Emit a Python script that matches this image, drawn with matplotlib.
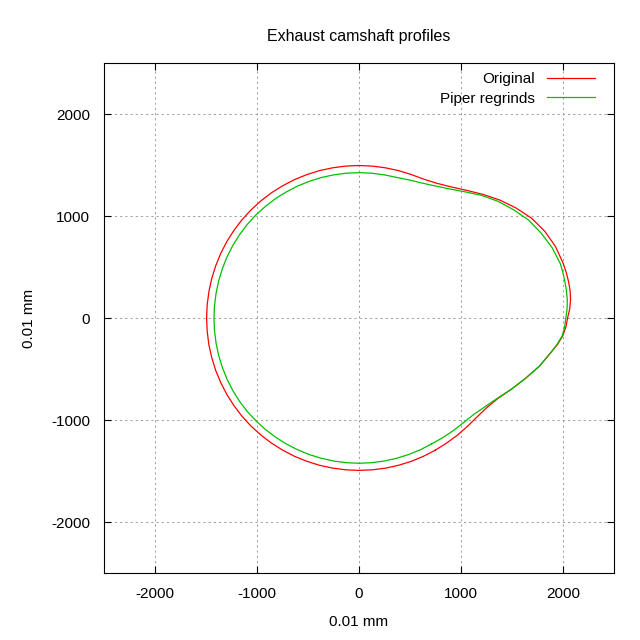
import numpy as np
import matplotlib
matplotlib.use('Agg')
import matplotlib.pyplot as plt

# cam profiles: polar angle (deg) and radius (0.01 mm)
nose_angles = [-60, -55, -50, -45, -40, -35, -30, -25, -20, -15, -10, -7.5, -5, -2.5,
               0, 2.5, 5, 7.5, 10, 12.5, 15, 20, 25, 30, 35, 40, 45, 50, 55, 60,
               65, 70, 75]
base_angles = list(range(80, 300, 5))
angles = nose_angles + base_angles

original_r = [1496, 1497, 1500, 1503, 1510, 1530, 1575, 1650, 1735, 1830, 1915, 1965, 2005, 2030,
              2045, 2068, 2082, 2087, 2085, 2080, 2072, 2050, 2010, 1955, 1880, 1800, 1715, 1635, 1570, 1525,
              1502, 1497, 1496,
              1495, 1495, 1495, 1495, 1495, 1496, 1496, 1497, 1497, 1498,
              1498, 1498, 1498, 1497, 1497, 1496, 1495, 1495, 1494, 1494,
              1494, 1494, 1495, 1495, 1496, 1496, 1497, 1497, 1498, 1498,
              1497, 1497, 1496, 1496, 1495, 1495, 1494, 1494, 1494, 1494,
              1495, 1495, 1496, 1496]

piper_r = [1425, 1432, 1440, 1450, 1470, 1512, 1570, 1650, 1735, 1830, 1915, 1960, 2000, 2018,
           2028, 2042, 2050, 2051, 2050, 2048, 2045, 2015, 1970, 1920, 1850, 1780, 1700, 1615, 1545, 1495,
           1460, 1440, 1427,
           1425, 1425, 1425, 1425, 1425, 1426, 1426, 1427, 1427, 1428,
           1428, 1429, 1429, 1428, 1427, 1426, 1424, 1423, 1422, 1422,
           1422, 1422, 1423, 1424, 1425, 1426, 1427, 1428, 1428, 1427,
           1427, 1426, 1426, 1425, 1425, 1424, 1424, 1424, 1424, 1424,
           1424, 1424, 1424, 1425]

plt.rcParams['font.family'] = ['Liberation Sans', 'DejaVu Sans']
plt.rcParams['axes.unicode_minus'] = False

fig = plt.figure(figsize=(6.4, 6.4), dpi=100)
ax = fig.add_axes([104 / 640, 67 / 640, 510 / 640, 510 / 640])

th = np.radians(angles + [angles[0] + 360])
for r, col, lab in [(original_r, '#ff0000', 'Original'),
                    (piper_r, '#00c000', 'Piper regrinds')]:
    rr = np.array(r + [r[0]])
    ax.plot(rr * np.cos(th), rr * np.sin(th), color=col, lw=0.9, label=lab)

ax.set_xlim(-2500, 2500)
ax.set_ylim(-2500, 2500)
ticks = [-2000, -1000, 0, 1000, 2000]
ax.set_xticks(ticks)
ax.set_yticks(ticks)
ax.tick_params(direction='in', top=True, right=True, length=5, width=0.8,
               labelsize=11, pad=10, colors='black')
ax.grid(True, color='#a0a0a0', linestyle=(0, (2, 3)), lw=0.75)
for s in ax.spines.values():
    s.set_linewidth(0.8)

ax.set_title('Exhaust camshaft profiles', fontsize=11.5, pad=16)
ax.set_xlabel('0.01 mm', fontsize=11, labelpad=10)
ax.set_ylabel('0.01 mm', fontsize=11, labelpad=11)

ax.legend(loc='upper right', frameon=False, markerfirst=False, fontsize=11,
          handlelength=3.1, handletextpad=0.8, labelspacing=0.35,
          borderaxespad=0.2, bbox_to_anchor=(0.98, 1.0))

fig.savefig('out.png', dpi=100)
